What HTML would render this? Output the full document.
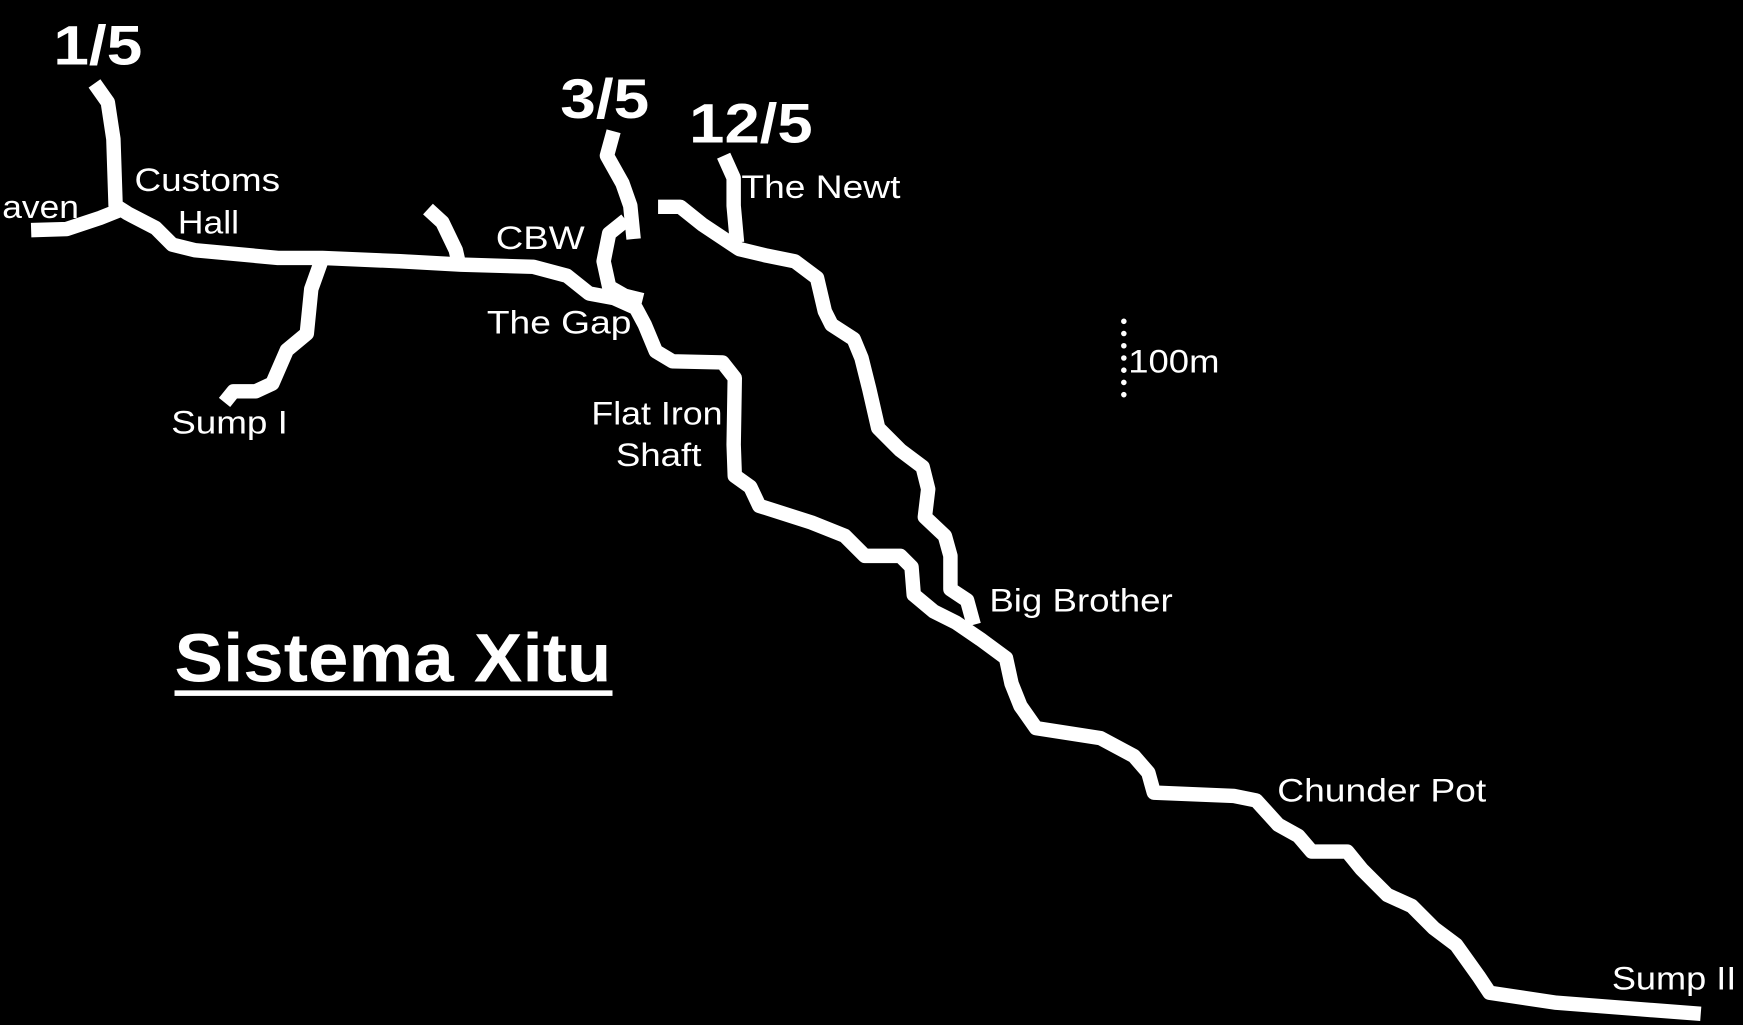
<!DOCTYPE html>
<html><head><meta charset="utf-8"><style>
html,body{margin:0;padding:0;background:#000;width:1743px;height:1025px;overflow:hidden}
svg{display:block}
text{fill:#fff;font-family:"Liberation Sans",Arial,sans-serif}
</style></head><body>
<svg width="1743" height="1025" viewBox="0 0 1568 922" xmlns="http://www.w3.org/2000/svg">
<rect width="1568" height="922" fill="#000"/>
<g fill="none" stroke="#fff" stroke-width="13" stroke-linejoin="round">
<path d="M85,75 L97,92 L102,125 L104,185 L115,192 L140,205 L155,220 L175,225 L250,232 L290,232 L360,235 L415,238 L480,240 L510,248 L530,264 L552,268 L572,277 L580,292 L590,316 L605,325 L650,326 L661,340 L660,400 L661,428 L675,438 L683,455 L730,470 L760,482 L778,500 L810,500 L820,510 L822,535 L840,550 L860,560 L882,575 L905,592 L910,615 L918,635 L932,655 L990,664 L1020,680 L1033,695 L1038,713 L1110,716 L1130,720 L1150,742 L1168,752 L1180,766 L1212,766 L1225,782 L1248,805 L1270,815 L1290,835 L1310,850 L1330,878 L1340,893 L1400,902 L1530,912"/>
<path d="M28,207 L60,206 L90,196 L110,188"/>
<path d="M385,188 L398,200 L410,225 L413,238"/>
<path d="M290,232 L280,260 L276,300 L258,315 L245,345 L230,352 L210,352 L202,362"/>
<path d="M552,118 L546,140 L560,165 L567,185 L570,215"/>
<path d="M563,198 L548,210 L543,235 L548,258 L562,266 L578,270"/>
<path d="M592,186 L612,186 L632,202 L665,224 L690,230 L715,235 L735,250 L742,280 L748,292 L768,305 L775,322 L782,350 L790,385 L810,405 L830,420 L835,440 L832,465 L850,482 L855,500 L855,530 L870,540 L876,562"/>
<path d="M651,140 L660,160 L660,185 L663,218"/>
</g>
<line x1="1011" y1="289" x2="1011" y2="358" stroke="#fff" stroke-width="5" stroke-linecap="round" stroke-dasharray="0 11"/>
<g font-weight="bold" font-size="50">
<text x="48" y="58" textLength="80" lengthAdjust="spacingAndGlyphs">1/5</text>
<text x="504" y="106" textLength="80" lengthAdjust="spacingAndGlyphs">3/5</text>
<text x="620" y="128" textLength="111" lengthAdjust="spacingAndGlyphs">12/5</text>
</g>
<g font-size="29">
<text x="2" y="196" textLength="69" lengthAdjust="spacingAndGlyphs">aven</text>
<text x="121" y="172" textLength="131" lengthAdjust="spacingAndGlyphs">Customs</text>
<text x="160" y="210" textLength="55" lengthAdjust="spacingAndGlyphs">Hall</text>
<text x="446" y="224" textLength="80" lengthAdjust="spacingAndGlyphs">CBW</text>
<text x="667" y="178" textLength="143" lengthAdjust="spacingAndGlyphs">The Newt</text>
<text x="438" y="300" textLength="130" lengthAdjust="spacingAndGlyphs">The Gap</text>
<text x="154" y="390" textLength="105" lengthAdjust="spacingAndGlyphs">Sump I</text>
<text x="532" y="382" textLength="118" lengthAdjust="spacingAndGlyphs">Flat Iron</text>
<text x="554" y="419" textLength="77" lengthAdjust="spacingAndGlyphs">Shaft</text>
<text x="1015" y="335" textLength="82" lengthAdjust="spacingAndGlyphs">100m</text>
<text x="890" y="550" textLength="165" lengthAdjust="spacingAndGlyphs">Big Brother</text>
<text x="1149" y="721" textLength="188" lengthAdjust="spacingAndGlyphs">Chunder Pot</text>
<text x="1450" y="890" textLength="112" lengthAdjust="spacingAndGlyphs">Sump II</text>
</g>
<text x="157" y="613" font-size="62" font-weight="bold" textLength="393" lengthAdjust="spacingAndGlyphs">Sistema Xitu</text>
<rect x="157" y="621" width="394" height="5" fill="#fff"/>
</svg>
</body></html>
